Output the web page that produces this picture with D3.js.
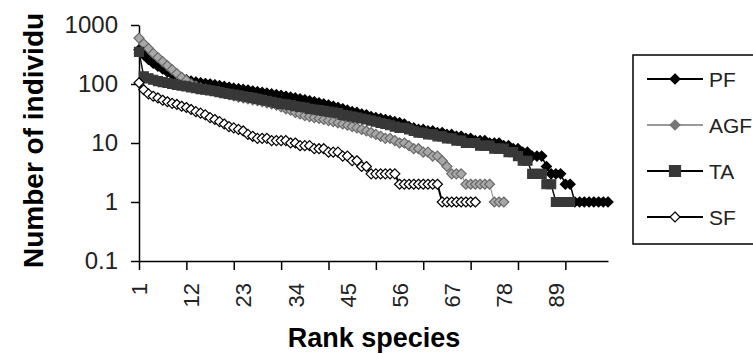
<!DOCTYPE html>
<html>
<head>
<meta charset="utf-8">
<script src="https://cdn.jsdelivr.net/npm/d3@7"></script>
<style>
  html, body { margin: 0; padding: 0; background: #fff; }
  svg { display: block; font-family: "Liberation Sans", Arial, sans-serif; }
</style>
</head>
<body>
<div id="chart"></div>
<script>
// rank-abundance values (number of individuals per rank)
const pfValues = [
  380, 310, 260, 225, 200, 180, 160, 145, 135, 125,
  118, 112, 108, 105, 102, 100, 97, 94, 91, 88,
  85, 83, 81, 79, 76, 74, 72, 70, 68, 66,
  64, 62, 60, 58, 56, 54, 52, 50, 48, 46,
  44, 42, 40, 38, 36, 34, 33, 31, 30, 28,
  27, 26, 25, 24, 23, 22, 21, 19, 18, 17,
  17, 16, 16, 15, 15, 14, 14, 13, 13, 12,
  12, 11, 11, 11, 10, 10, 10, 9, 9, 8,
  8, 7, 7, 6, 6, 6, 4, 3, 3, 3,
  2, 2, 1, 1, 1, 1, 1, 1, 1, 1
];
const agfValues = [
  600, 480, 400, 330, 280, 240, 205, 175, 150, 130,
  115, 100, 92, 86, 82, 78, 75, 72, 69, 66,
  63, 60, 58, 56, 54, 52, 50, 48, 46, 44,
  41, 38, 36, 33, 31, 29, 28, 27, 26, 25,
  24, 23, 22, 21, 20, 19, 18, 17, 16, 15,
  14, 13, 12, 12, 11, 10, 10, 9, 8, 8,
  7, 7, 6, 6, 5, 4, 3, 3, 3, 2,
  2, 2, 2, 2, 2, 1, 1, 1
];
const taValues = [
  350, 135, 125, 118, 112, 108, 104, 100, 97, 94,
  91, 88, 85, 82, 80, 78, 76, 73, 70, 68,
  66, 64, 62, 60, 58, 56, 54, 52, 50, 48,
  46, 45, 44, 42, 41, 40, 38, 37, 36, 35,
  34, 33, 32, 30, 29, 28, 27, 26, 25, 24,
  23, 22, 21, 20, 19, 18, 18, 17, 16, 15,
  15, 14, 14, 13, 13, 12, 12, 11, 11, 10,
  10, 10, 9, 9, 9, 8, 8, 8, 7, 7,
  6, 5, 5, 3, 3, 3, 2, 2, 1, 1,
  1, 1
];
const sfValues = [
  105, 80, 68, 62, 58, 53, 50, 47, 45, 42,
  40, 37, 34, 32, 30, 27, 25, 23, 21, 19,
  18, 17, 16, 14, 13, 12, 12, 12, 11, 11,
  11, 11, 10, 10, 9, 9, 9, 8, 8, 8,
  7, 7, 7, 6, 6, 5, 5, 4, 4, 3,
  3, 3, 3, 3, 3, 2, 2, 2, 2, 2,
  2, 2, 2, 2, 1, 1, 1, 1, 1, 1,
  1, 1
];

const seriesNames = ['PF', 'AGF', 'TA', 'SF'];
const xTickRanks = [1, 11, 21, 31, 41, 51, 61, 71, 81, 91];
const xLabelRanks = [1, 12, 23, 34, 45, 56, 67, 78, 89];
const yTickValues = [0.1, 1, 10, 100, 1000];
const yTickLabels = ['0.1', '1', '10', '100', '1000'];

const width = 753, height = 354;
const svg = d3.select('#chart').append('svg').attr('width', width).attr('height', height);

const x = d3.scaleLinear().domain([1, 100]).range([139, 608]);
const y = d3.scaleLog().domain([0.1, 1000]).range([261, 25]);

// marker shapes
const diamond = (r) => `M0,${-r}L${r},0L0,${r}L${-r},0Z`;
const square = (r) => `M${-r},${-r}H${r}V${r}H${-r}Z`;

const styles = {
  PF: { line: '#000', lw: 1.5, shape: diamond, r: 5, fill: '#000', stroke: '#000' },
  AGF: { line: '#888', lw: 1, shape: diamond, r: 5, fill: '#a8a8a8', stroke: '#6a6a6a' },
  TA: { line: '#111', lw: 1.5, shape: square, r: 4.5, fill: '#383838', stroke: '#383838' },
  SF: { line: '#000', lw: 2, shape: diamond, r: 5, fill: '#fff', stroke: '#000' }
};
const seriesData = { PF: pfValues, AGF: agfValues, TA: taValues, SF: sfValues };

// axes
const yAxis = svg.append('g')
  .attr('transform', 'translate(139,0)')
  .call(d3.axisLeft(y).tickValues(yTickValues).tickFormat((d, i) => yTickLabels[i]).tickSize(8).tickSizeOuter(0).tickPadding(13));
yAxis.select('.domain').attr('stroke', '#000').attr('stroke-width', 1.5);
yAxis.selectAll('.tick line').attr('stroke', '#000').attr('stroke-width', 1.5);
yAxis.selectAll('.tick text').attr('font-size', 24).attr('fill', '#222').attr('font-family', '"Liberation Sans", Arial, sans-serif');

const xAxis = svg.append('g')
  .attr('transform', 'translate(0,261)')
  .call(d3.axisBottom(x).tickValues(xTickRanks).tickFormat('').tickSize(9).tickSizeOuter(0));
xAxis.select('.domain').attr('stroke', '#000').attr('stroke-width', 1.5);
xAxis.selectAll('.tick line').attr('stroke', '#000').attr('stroke-width', 1.5);

const xLabels = svg.append('g').attr('transform', 'translate(0,261)')
  .call(d3.axisBottom(x).tickValues(xLabelRanks).tickSize(0).tickSizeOuter(0));
xLabels.select('.domain').remove();
xLabels.selectAll('.tick text')
  .attr('font-size', 22).attr('fill', '#222')
  .attr('font-family', '"Liberation Sans", Arial, sans-serif')
  .attr('text-anchor', 'end')
  .attr('dy', '0.35em')
  .attr('transform', 'translate(0,22) rotate(-90)')
  .attr('y', 0).attr('x', 0);

// series
const line = d3.line().x((d, i) => x(i + 1)).y((d) => y(d));
seriesNames.forEach((name) => {
  const s = styles[name];
  const vals = seriesData[name];
  const g = svg.append('g');
  g.append('path').datum(vals).attr('d', line)
    .attr('fill', 'none').attr('stroke', s.line).attr('stroke-width', s.lw);
  g.selectAll('path.mk').data(vals).join('path').attr('class', 'mk')
    .attr('d', s.shape(s.r))
    .attr('transform', (d, i) => `translate(${x(i + 1)},${y(d)})`)
    .attr('fill', s.fill).attr('stroke', s.stroke).attr('stroke-width', 1.2);
});

// axis titles
svg.append('text')
  .attr('x', 374).attr('y', 347)
  .attr('text-anchor', 'middle')
  .attr('font-size', 27).attr('font-weight', 'bold')
  .text('Rank species');
svg.append('text')
  .attr('transform', 'translate(43,268) rotate(-90)')
  .attr('font-size', 28).attr('font-weight', 'bold')
  .text('Number of individu');

// legend
const legend = svg.append('g');
legend.append('rect')
  .attr('x', 633).attr('y', 55).attr('width', 140).attr('height', 189)
  .attr('fill', '#fff').attr('stroke', '#000').attr('stroke-width', 1.5);
const legendY = d3.scalePoint().domain(seriesNames).range([79, 217]);
seriesNames.forEach((name) => {
  const s = styles[name];
  const ly = legendY(name);
  legend.append('line').attr('x1', 647).attr('x2', 703).attr('y1', ly).attr('y2', ly)
    .attr('stroke', name === 'AGF' ? '#777' : '#000').attr('stroke-width', name === 'AGF' ? 1.5 : 2);
  legend.append('path').attr('d', s.shape(name === 'TA' ? 5.5 : 5))
    .attr('transform', `translate(675,${ly})`)
    .attr('fill', name === 'AGF' ? '#777' : s.fill).attr('stroke', name === 'AGF' ? '#777' : s.stroke).attr('stroke-width', 1.2);
  legend.append('text').attr('x', 709).attr('y', ly).attr('dy', '0.36em')
    .attr('font-size', 21).attr('fill', '#222').text(name);
});
</script>
</body>
</html>
